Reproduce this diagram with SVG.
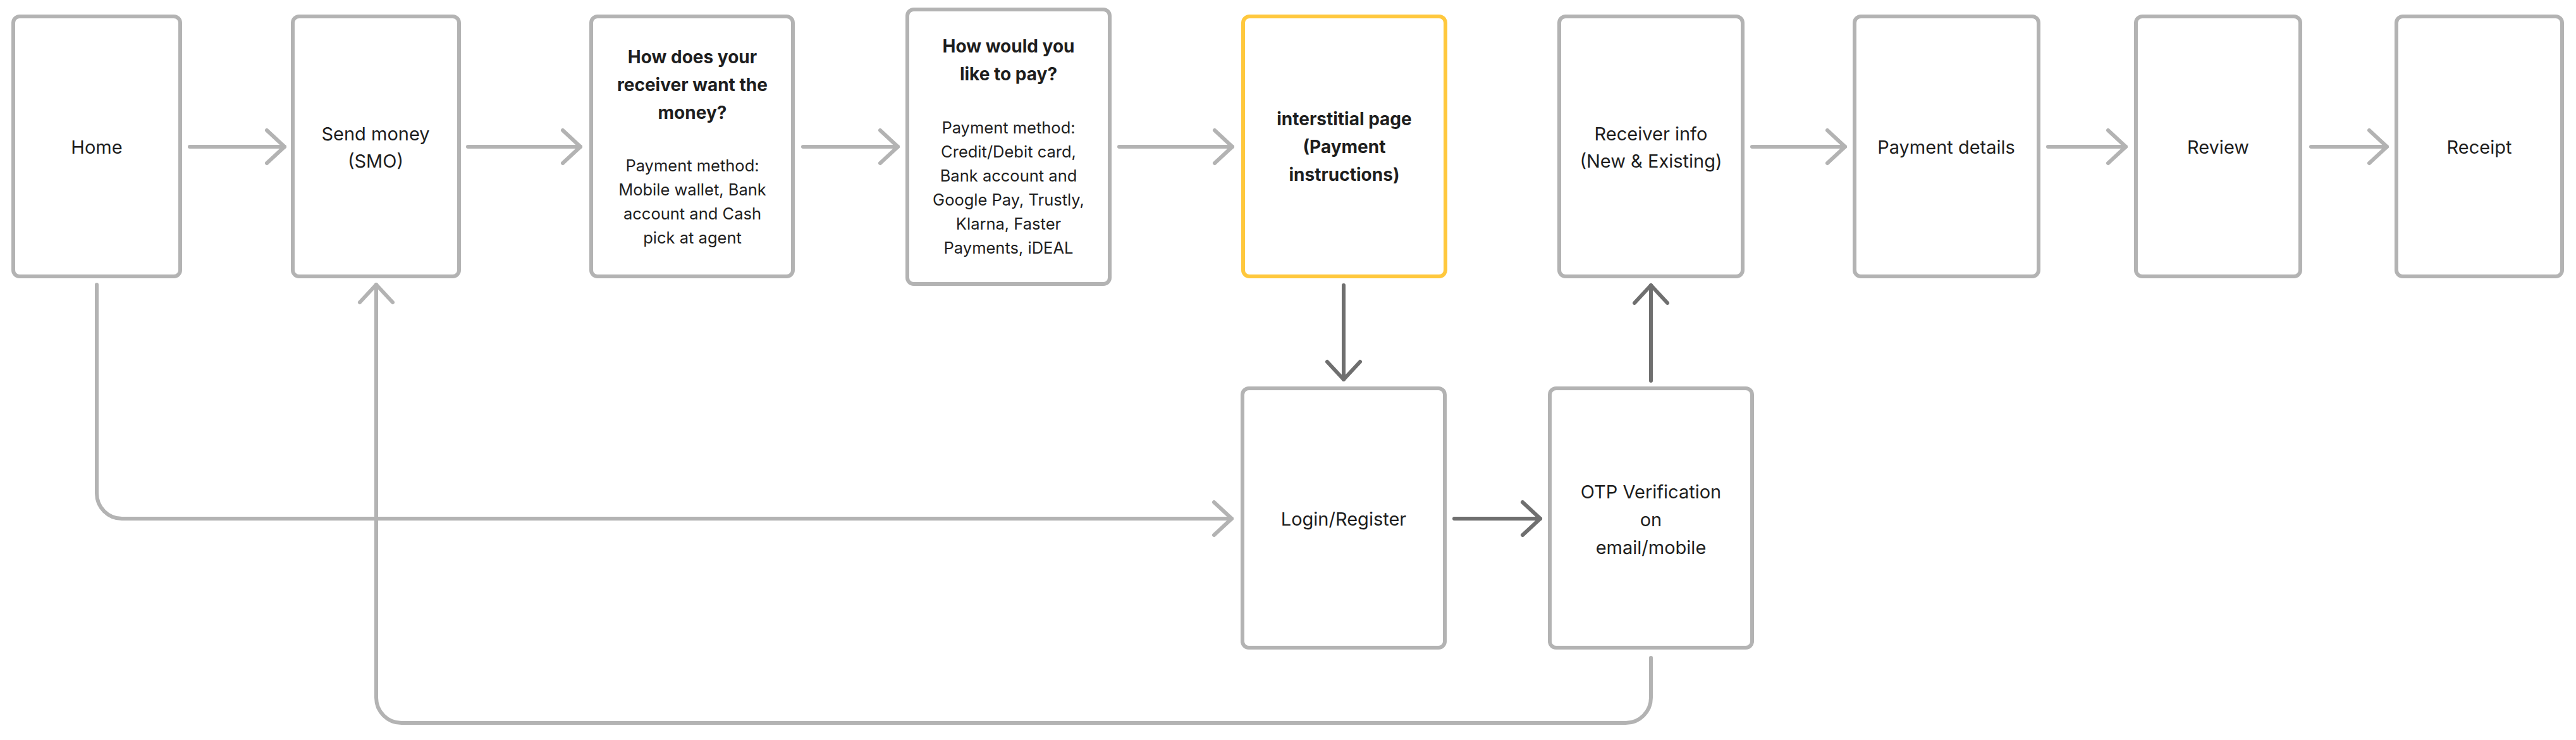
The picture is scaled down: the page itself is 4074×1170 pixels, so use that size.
<svg xmlns="http://www.w3.org/2000/svg" width="4074" height="1170" viewBox="0 0 4074 1170">
<style>
.box{fill:#fff;stroke:#b3b3b3;stroke-width:6}
.hl{stroke:#ffc83d}
.t{font-family:Inter,"Liberation Sans",sans-serif;font-size:29px;fill:#1e1e1e;text-anchor:middle}
.b{font-weight:700;font-size:28px}
.s{font-size:25.5px}
.c{fill:none;stroke:#b3b3b3;stroke-width:6;stroke-linecap:round;stroke-linejoin:round}
.d{stroke:#6f6f6f}
</style>
<defs>
<marker id="al" markerUnits="userSpaceOnUse" viewBox="-34 -32 40 64" refX="0" refY="0" markerWidth="40" markerHeight="64" orient="auto">
<path d="M-28,-26 L0,0 L-28,26" fill="none" stroke="#b3b3b3" stroke-width="6" stroke-linecap="round" stroke-linejoin="round"/>
</marker>
<marker id="ad" markerUnits="userSpaceOnUse" viewBox="-34 -32 40 64" refX="0" refY="0" markerWidth="40" markerHeight="64" orient="auto">
<path d="M-28,-26 L0,0 L-28,26" fill="none" stroke="#6f6f6f" stroke-width="6" stroke-linecap="round" stroke-linejoin="round"/>
</marker>
</defs>
<rect width="4074" height="1170" fill="#fff"/>
<g id="connectors">
<path class="c" marker-end="url(#al)" d="M300,232 H450"/>
<path class="c" marker-end="url(#al)" d="M740,232 H918"/>
<path class="c" marker-end="url(#al)" d="M1270,232 H1420"/>
<path class="c" marker-end="url(#al)" d="M1770,232 H1949"/>
<path class="c" marker-end="url(#al)" d="M2771,232 H2918"/>
<path class="c" marker-end="url(#al)" d="M3239,232 H3362"/>
<path class="c" marker-end="url(#al)" d="M3655,232 H3775"/>
<path class="c" marker-end="url(#al)" d="M153,450 V780 A40,40 0 0 0 193,820 H1948"/>
<path class="c" marker-end="url(#al)" d="M2611,1040 V1103 A40,40 0 0 1 2571,1143 H635 A40,40 0 0 1 595,1103 V450"/>
<path class="c d" marker-end="url(#ad)" d="M2125,451 V600"/>
<path class="c d" marker-end="url(#ad)" d="M2300,820 H2436"/>
<path class="c d" marker-end="url(#ad)" d="M2611,602 V451"/>
</g>
<g id="home"><rect class="box" x="21" y="26" width="264" height="411" rx="10"/><text class="t" x="153" y="243">Home</text></g>
<g id="send-money"><rect class="box" x="463" y="26" width="263" height="411" rx="10"/><text class="t" x="594" y="222">Send money</text><text class="t" x="594" y="265">(SMO)</text></g>
<g id="receiver-want"><rect class="box" x="935" y="26" width="319" height="411" rx="10"/>
<text class="t b" x="1095" y="100">How does your</text><text class="t b" x="1095" y="144">receiver want the</text><text class="t b" x="1095" y="188">money?</text>
<text class="t s" x="1095" y="271">Payment method:</text><text class="t s" x="1095" y="309">Mobile wallet, Bank</text><text class="t s" x="1095" y="347">account and Cash</text><text class="t s" x="1095" y="385">pick at agent</text></g>
<g id="like-to-pay"><rect class="box" x="1435" y="15" width="320" height="434" rx="10"/>
<text class="t b" x="1595" y="83">How would you</text><text class="t b" x="1595" y="127">like to pay?</text>
<text class="t s" x="1595" y="211">Payment method:</text><text class="t s" x="1595" y="249">Credit/Debit card,</text><text class="t s" x="1595" y="287">Bank account and</text><text class="t s" x="1595" y="325">Google Pay, Trustly,</text><text class="t s" x="1595" y="363">Klarna, Faster</text><text class="t s" x="1595" y="401">Payments, iDEAL</text></g>
<g id="interstitial"><rect class="box hl" x="1966" y="26" width="320" height="411" rx="10"/>
<text class="t b" x="2126" y="198">interstitial page</text><text class="t b" x="2126" y="242">(Payment</text><text class="t b" x="2126" y="286">instructions)</text></g>
<g id="receiver-info"><rect class="box" x="2466" y="26" width="290" height="411" rx="10"/><text class="t" x="2611" y="222">Receiver info</text><text class="t" x="2611" y="265">(New &amp; Existing)</text></g>
<g id="payment-details"><rect class="box" x="2933" y="26" width="291" height="411" rx="10"/><text class="t" x="3078" y="243">Payment details</text></g>
<g id="review"><rect class="box" x="3378" y="26" width="260" height="411" rx="10"/><text class="t" x="3508" y="243">Review</text></g>
<g id="receipt"><rect class="box" x="3790" y="26" width="262" height="411" rx="10"/><text class="t" x="3921" y="243">Receipt</text></g>
<g id="login"><rect class="box" x="1965" y="614" width="320" height="410" rx="10"/><text class="t" x="2125" y="831">Login/Register</text></g>
<g id="otp"><rect class="box" x="2451" y="614" width="320" height="410" rx="10"/><text class="t" x="2611" y="788">OTP Verification</text><text class="t" x="2611" y="832">on</text><text class="t" x="2611" y="876">email/mobile</text></g>
</svg>
